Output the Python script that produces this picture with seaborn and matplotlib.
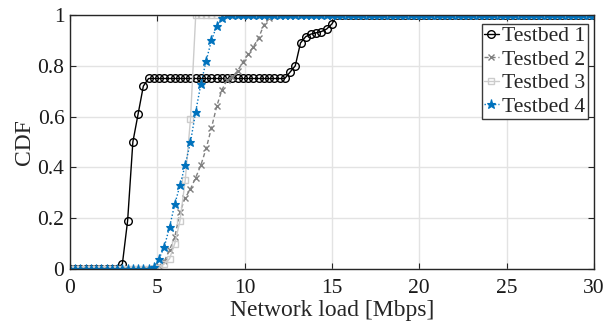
import numpy as np
import pandas as pd
import matplotlib
matplotlib.use("Agg")
import matplotlib.pyplot as plt
import seaborn as sns

# Sampling grid of network load values (Mbps)
load = np.round(np.arange(0, 30.0001, 0.3), 1)

# CDF values of each testbed on that grid (rising parts listed, flat parts padded)
tb1_rise = [0.02, 0.19, 0.50, 0.61, 0.72]
tb1_plateau = [0.75] * 27
tb1_tail = [0.775, 0.80, 0.89, 0.915, 0.925, 0.93, 0.935, 0.945, 0.965]
testbed1 = [0.0] * 10 + tb1_rise + tb1_plateau + tb1_tail
testbed1 += [1.0] * (len(load) - len(testbed1))

tb2_rise = [0.003, 0.012, 0.03, 0.075, 0.125, 0.225, 0.28, 0.315, 0.36, 0.41,
            0.475, 0.555, 0.64, 0.705, 0.745, 0.757, 0.78, 0.815, 0.845, 0.875,
            0.91, 0.96, 0.99]
testbed2 = [0.0] * 16 + tb2_rise
testbed2 += [1.0] * (len(load) - len(testbed2))

tb3_rise = [0.0, 0.005, 0.02, 0.04, 0.10, 0.19, 0.35, 0.59]
testbed3 = [0.0] * 16 + tb3_rise
testbed3 += [1.0] * (len(load) - len(testbed3))

tb4_rise = [0.008, 0.04, 0.087, 0.165, 0.255, 0.33, 0.41, 0.50, 0.62, 0.73,
            0.82, 0.90, 0.957, 0.99]
testbed4 = [0.0] * 16 + tb4_rise
testbed4 += [1.0] * (len(load) - len(testbed4))

labels = ["Testbed 1", "Testbed 2", "Testbed 3", "Testbed 4"]
series = [testbed1, testbed2, testbed3, testbed4]

x_ticks = [0, 5, 10, 15, 20, 25, 30]
y_ticks = [0, 0.2, 0.4, 0.6, 0.8, 1]
y_tick_labels = ["0", "0.2", "0.4", "0.6", "0.8", "1"]

sns.set_style("ticks")
plt.rcParams["font.family"] = ["Liberation Serif", "DejaVu Serif"]

styles = [
    dict(color="#000000", linestyle="-", marker="o", markersize=5.5,
         markerfacecolor="none", markeredgecolor="#000000", markeredgewidth=1.0),
    dict(color="#808080", linestyle=(0, (3, 2)), marker="x", markersize=5,
         markeredgecolor="#808080", markeredgewidth=1.0),
    dict(color="#cccccc", linestyle="-", marker="s", markersize=5,
         markerfacecolor="none", markeredgecolor="#cccccc", markeredgewidth=1.0),
    dict(color="#0072BD", linestyle=(0, (1, 1.5)), marker="*", markersize=6.5,
         markerfacecolor="#0072BD", markeredgecolor="#0072BD", markeredgewidth=0.8),
]

fig = plt.figure(figsize=(6.06, 3.30), dpi=100)
ax = fig.add_axes([0.1155, 0.185, 0.8645, 0.7695])

for lab, vals, st in zip(labels, series, styles):
    df = pd.DataFrame({"load": load, "cdf": vals})
    sns.lineplot(data=df, x="load", y="cdf", ax=ax, label=lab,
                 linewidth=1.0, estimator=None, sort=False, **st)

ax.set_xlim(0, 30)
ax.set_ylim(0, 1)
ax.set_xticks(x_ticks)
ax.set_xticklabels([str(t) for t in x_ticks])
ax.set_yticks(y_ticks)
ax.set_yticklabels(y_tick_labels)
ax.grid(True, color="#e3e3e3", linewidth=1.0)
ax.set_axisbelow(True)
for sp in ax.spines.values():
    sp.set_visible(True)
    sp.set_color("#262626")
    sp.set_linewidth(1.0)
ax.tick_params(direction="in", top=True, right=True, length=4,
               width=0.8, labelsize=15.5, colors="#262626")
ax.tick_params(axis="x", pad=7)
ax.tick_params(axis="y", pad=4)
ax.tick_params(labelcolor="#1a1a1a")
ax.set_xlabel("Network load [Mbps]", fontsize=17, labelpad=2)
ax.set_ylabel("CDF", fontsize=17, labelpad=2)

leg = ax.legend(loc="upper right", bbox_to_anchor=(0.9885, 0.9646), fontsize=15.6,
                frameon=True, fancybox=False, framealpha=1,
                handlelength=0.7, handletextpad=0.15, borderpad=0.1,
                labelspacing=0.15, borderaxespad=0.0)
leg.get_frame().set_edgecolor("#3a3a3a")
leg.get_frame().set_linewidth(1.0)

fig.savefig("out.png", dpi=100)
